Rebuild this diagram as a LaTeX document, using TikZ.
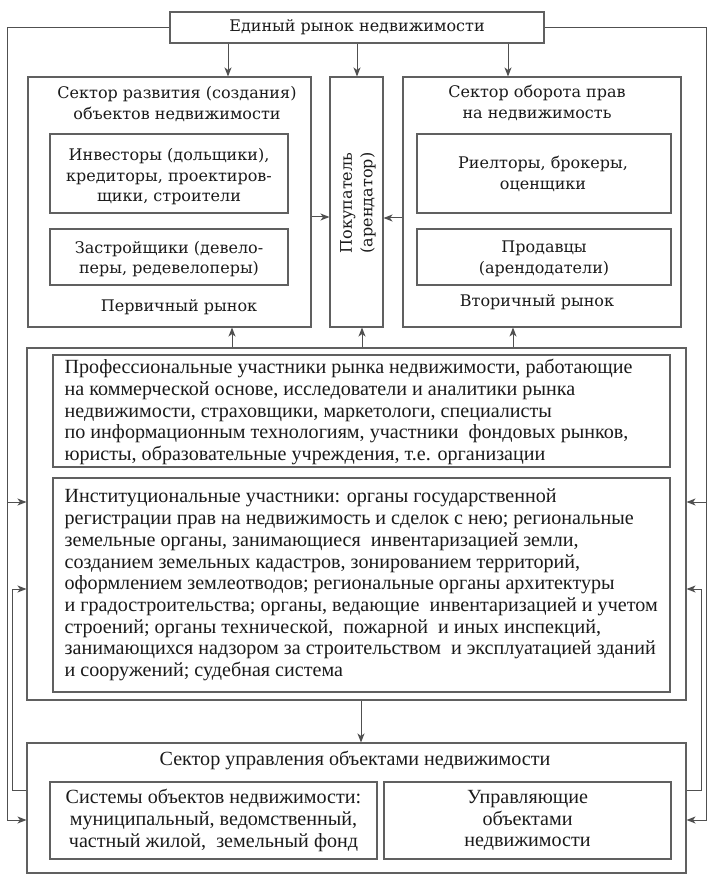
\documentclass[tikz,border=0pt]{standalone}
\usepackage{fontspec}
\setmainfont{DejaVu Serif}
\newfontfamily\condf{Liberation Serif}
\usetikzlibrary{arrows.meta}
\definecolor{boxc}{HTML}{606060}
\definecolor{linec}{HTML}{505050}
\definecolor{txtc}{HTML}{1A1A1A}
\tikzset{
  box/.style={draw=boxc, line width=1.1pt, inner sep=0pt},
  arr/.style={draw=linec, line width=1pt, -{Stealth[length=9pt,width=7pt,inset=2.5pt]}},
  topf/.style={font=\fontsize{16}{20.5}\selectfont, align=center, text=txtc, inner sep=0pt},
  midf/.style={font=\condf\fontsize{20.1}{21.7}\selectfont, text=txtc, inner sep=0pt},
}
\begin{document}
\begin{tikzpicture}[x=1pt,y=-1pt]
\useasboundingbox (0,0) rectangle (717,882);
% top
\node[box, minimum width=374pt, minimum height=31pt] (top) at (357,27.5) {};
\node[topf] (topt) at (top.center) {Единый рынок недвижимости};
% left sector
\node[box, minimum width=283pt, minimum height=250pt] (ls) at (169.5,202) {};
\node[topf] (lst) at (177,104) {Сектор развития (создания)\\объектов недвижимости};
\node[box, minimum width=238pt, minimum height=79pt] (inv) at (169,173.5) {};
\node[topf] (invt) at (169,177) {Инвесторы (дольщики),\\кредиторы, проектиров-\\щики, строители};
\node[box, minimum width=238pt, minimum height=56pt] (dev) at (169,257) {};
\node[topf] (devt) at (169,259) {Застройщики (девело-\\перы, редевелоперы)};
\node[topf] (prim) at (179,307) {Первичный рынок};
% buyer
\node[box, minimum width=53pt, minimum height=250pt] (buy) at (356.5,202) {};
\node[topf, rotate=90] (buyt) at (358,203) {Покупатель\\(арендатор)};
% right sector
\node[box, minimum width=278pt, minimum height=250pt] (rs) at (542,202) {};
\node[topf] (rst) at (537,103) {Сектор оборота прав\\на недвижимость};
\node[box, minimum width=254pt, minimum height=79pt] (real) at (544,173.5) {};
\node[topf] (realt) at (543,174) {Риелторы, брокеры,\\оценщики};
\node[box, minimum width=254pt, minimum height=56pt] (sell) at (544,257) {};
\node[topf] (sellt) at (544,259) {Продавцы\\(арендодатели)};
\node[topf] (sec) at (537,302) {Вторичный рынок};
% middle
\node[box, minimum width=659pt, minimum height=352pt] (mid) at (356.5,524) {};
\node[box, minimum width=617pt, minimum height=112pt] (prof) at (361.5,411) {};
\node[midf, align=left, anchor=west] (proft) at ([xshift=12pt,yshift=-1pt]prof.west) {Профессиональные участники рынка недвижимости, работающие\\на коммерческой основе, исследователи и аналитики рынка\\недвижимости, страховщики, маркетологи, специалисты\\по информационным технологиям, участники\ \ фондовых рынков,\\юристы, образовательные учреждения, т.е. организации};
\node[box, minimum width=617pt, minimum height=214pt] (inst) at (361.5,585) {};
\node[midf, align=left, anchor=west] (instt) at ([xshift=12pt]inst.west) {Институциональные участники: органы государственной\\регистрации прав на недвижимость и сделок с нею; региональные\\земельные органы, занимающиеся\ \ инвентаризацией земли,\\созданием земельных кадастров, зонированием территорий,\\оформлением землеотводов; региональные органы архитектуры\\и градостроительства; органы, ведающие\ \ инвентаризацией и учетом\\строений; органы технической,\ \ пожарной\ \ и иных инспекций,\\занимающихся надзором за строительством\ \ и эксплуатацией зданий\\и сооружений; судебная система};
% bottom
\node[box, minimum width=659pt, minimum height=130pt] (bot) at (356.5,808) {};
\node[midf] (bott) at (355,760) {Сектор управления объектами недвижимости};
\node[box, minimum width=327pt, minimum height=77pt] (sys) at (213.5,820.5) {};
\node[midf, align=center] (syst) at (sys.center) {Системы объектов недвижимости:\\муниципальный, ведомственный,\\частный жилой,\ \ земельный фонд};
\node[box, minimum width=287pt, minimum height=77pt] (mgr) at (527.5,820.5) {};
\node[midf, align=center] (mgrt) at (mgr.center) {Управляющие\\объектами\\недвижимости};
% helper coordinates
\coordinate (xa) at (228,0);
\coordinate (xb) at (357,0);
\coordinate (xc) at (508,0);
\coordinate (xd) at (232,0);
\coordinate (xe) at (362,0);
\coordinate (xf) at (513,0);
\coordinate (xg) at (361,0);
\coordinate (ya) at (0,217);
\coordinate (yb) at (0,218);
\coordinate (oL) at (7,0);
\coordinate (iL) at (12,0);
\coordinate (oR) at (706,0);
\coordinate (iR) at (701,0);
\coordinate (yA) at (0,502);
\coordinate (yB) at (0,589);
\coordinate (yC) at (0,790);
\coordinate (yD) at (0,820);
% connectors from top
\draw[arr] (top.south -| xa) -- (ls.north -| xa);
\draw[arr] (top.south -| xb) -- (buy.north -| xb);
\draw[arr] (top.south -| xc) -- (rs.north -| xc);
% into buyer
\draw[arr] (ls.east |- ya) -- (buy.west |- ya);
\draw[arr] (rs.west |- yb) -- (buy.east |- yb);
% middle up
\draw[arr] (mid.north -| xd) -- (ls.south -| xd);
\draw[arr] (mid.north -| xe) -- (buy.south -| xe);
\draw[arr] (mid.north -| xf) -- (rs.south -| xf);
\draw[arr] (mid.south -| xg) -- (bot.north -| xg);
% left side
\draw[arr] (top.west) -- (top.west -| oL) -- (yD -| oL) -- (bot.west |- yD);
\draw[arr] (yA -| oL) -- (mid.west |- yA);
\draw[arr] (bot.west |- yC) -- (yC -| iL) -- (yB -| iL) -- (mid.west |- yB);
% right side
\draw[arr] (top.east) -- (top.east -| oR) -- (yD -| oR) -- (bot.east |- yD);
\draw[arr] (yA -| oR) -- (mid.east |- yA);
\draw[arr] (bot.east |- yC) -- (yC -| iR) -- (yB -| iR) -- (mid.east |- yB);
\end{tikzpicture}
\end{document}
